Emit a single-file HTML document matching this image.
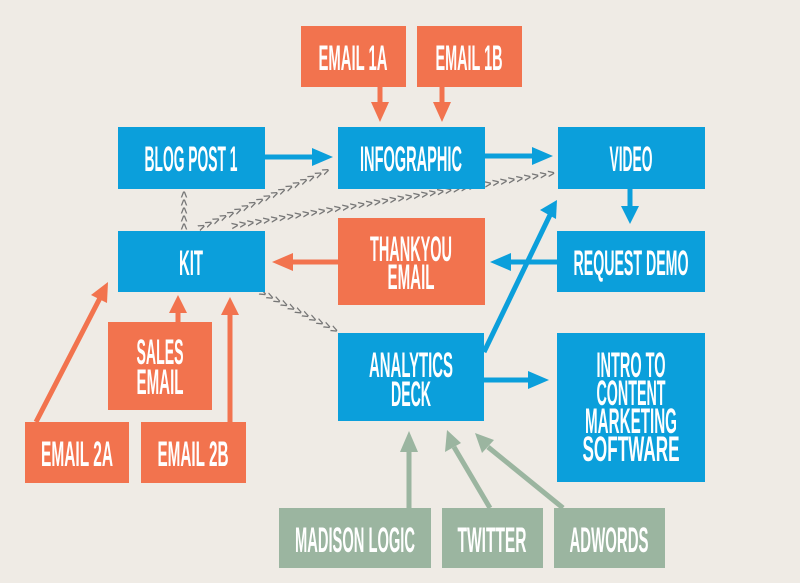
<!DOCTYPE html>
<html><head><meta charset="utf-8"><style>
html,body{margin:0;padding:0;background:#efebe5;}
svg{display:block}
text{font-family:"Liberation Sans Narrow","Liberation Sans",sans-serif;font-weight:bold;fill:#fff;font-size:35px;text-anchor:middle}
.c{font-family:"Liberation Sans",sans-serif;font-size:12px;fill:#777;font-weight:bold;text-anchor:start;letter-spacing:1px}
</style></head><body>
<svg width="800" height="583" viewBox="0 0 800 583" xmlns="http://www.w3.org/2000/svg">
<defs>
<path id="p1" d="M200 232 L338 170"/>
<path id="p2" d="M232 230 L560 176"/>
<path id="p3" d="M258 295 L338 336"/>
<path id="p4" d="M188 230 L188 192"/>
</defs>
<rect width="800" height="583" fill="#efebe5"/>

<text class="c"><textPath href="#p1">&gt;&gt;&gt;&gt;&gt;&gt;&gt;&gt;&gt;&gt;&gt;&gt;&gt;&gt;&gt;&gt;&gt;&gt;</textPath></text>
<text class="c"><textPath href="#p2">&gt;&gt;&gt;&gt;&gt;&gt;&gt;&gt;&gt;&gt;&gt;&gt;&gt;&gt;&gt;&gt;&gt;&gt;&gt;&gt;&gt;&gt;&gt;&gt;&gt;&gt;&gt;&gt;&gt;&gt;&gt;&gt;&gt;&gt;&gt;&gt;&gt;&gt;&gt;&gt;&gt;&gt;</textPath></text>
<text class="c"><textPath href="#p3">&gt;&gt;&gt;&gt;&gt;&gt;&gt;&gt;&gt;&gt;&gt;</textPath></text>
<text class="c"><textPath href="#p4">&gt;&gt;&gt;&gt;&gt;</textPath></text>

<g stroke="#0b9fdb" stroke-width="5" fill="#0b9fdb">
<line x1="265" y1="157" x2="315" y2="157"/><polygon stroke="none" points="312,148 333,157 312,166"/>
<line x1="485" y1="156" x2="535" y2="156"/><polygon stroke="none" points="532,147 553,156 532,165"/>
<line x1="630" y1="189" x2="630" y2="210"/><polygon stroke="none" points="621,206 639,206 630,224"/>
<line x1="558" y1="262" x2="508" y2="262"/><polygon stroke="none" points="511,253 490,262 511,271"/>
<line x1="484" y1="352" x2="550" y2="215"/><polygon stroke="none" points="540,210 557,200 556,219"/>
<line x1="484" y1="380" x2="530" y2="380"/><polygon stroke="none" points="528,371 549,380 528,389"/>
</g>
<g stroke="#f2734e" stroke-width="5" fill="#f2734e">
<line x1="380" y1="87" x2="380" y2="105"/><polygon stroke="none" points="371,102 389,102 380,122"/>
<line x1="442" y1="87" x2="442" y2="105"/><polygon stroke="none" points="433,102 451,102 442,122"/>
<line x1="338" y1="262" x2="290" y2="262"/><polygon stroke="none" points="293,253 272,262 293,271"/>
<line x1="36" y1="422" x2="100" y2="298"/><polygon stroke="none" points="91,295 108,282 107,303"/>
<line x1="178" y1="322" x2="178" y2="310"/><polygon stroke="none" points="169,313 187,313 178,295"/>
<line x1="230" y1="422" x2="230" y2="312"/><polygon stroke="none" points="221,315 239,315 230,297"/>
</g>
<g stroke="#9bb5a0" stroke-width="5" fill="#9bb5a0">
<line x1="409" y1="508" x2="409" y2="448"/><polygon stroke="none" points="400,452 418,452 409,431"/>
<line x1="490" y1="508" x2="454" y2="447"/><polygon stroke="none" points="445,452 461,443 447,430"/>
<line x1="563" y1="508" x2="488" y2="447"/><polygon stroke="none" points="482,453 494,440 475,433"/>
</g>

<g fill="#0b9fdb">
<rect x="118" y="127" width="147" height="62"/>
<rect x="338" y="127" width="147" height="62"/>
<rect x="558" y="127" width="147" height="62"/>
<rect x="118" y="231" width="147" height="61"/>
<rect x="557" y="231" width="148" height="61"/>
<rect x="338" y="333" width="146" height="88"/>
<rect x="557" y="333" width="148" height="149"/>
</g>
<g fill="#f2734e">
<rect x="301" y="26" width="105" height="61"/>
<rect x="417" y="26" width="105" height="61"/>
<rect x="338" y="218" width="147" height="87"/>
<rect x="108" y="322" width="104" height="88"/>
<rect x="25" y="422" width="104" height="61"/>
<rect x="141" y="422" width="105" height="61"/>
</g>
<g fill="#9bb5a0">
<rect x="279" y="508" width="152" height="60"/>
<rect x="442" y="508" width="101" height="60"/>
<rect x="554" y="508" width="111" height="60"/>
</g>

<text x="353" y="70" textLength="69" lengthAdjust="spacingAndGlyphs">EMAIL 1A</text>
<text x="469" y="70" textLength="67" lengthAdjust="spacingAndGlyphs">EMAIL 1B</text>
<text x="191" y="171" textLength="93" lengthAdjust="spacingAndGlyphs">BLOG POST 1</text>
<text x="411" y="171" textLength="102" lengthAdjust="spacingAndGlyphs">INFOGRAPHIC</text>
<text x="631" y="171" textLength="43" lengthAdjust="spacingAndGlyphs">VIDEO</text>
<text x="191" y="275" textLength="24" lengthAdjust="spacingAndGlyphs">KIT</text>
<text x="631" y="275" textLength="115" lengthAdjust="spacingAndGlyphs">REQUEST DEMO</text>
<text x="411" y="261" textLength="82" lengthAdjust="spacingAndGlyphs">THANKYOU</text>
<text x="411" y="289" textLength="47" lengthAdjust="spacingAndGlyphs">EMAIL</text>
<text x="411" y="377" textLength="84" lengthAdjust="spacingAndGlyphs">ANALYTICS</text>
<text x="411" y="406" textLength="40" lengthAdjust="spacingAndGlyphs">DECK</text>
<text x="160" y="364" textLength="47" lengthAdjust="spacingAndGlyphs">SALES</text>
<text x="160" y="394" textLength="47" lengthAdjust="spacingAndGlyphs">EMAIL</text>
<text x="77" y="466" textLength="72" lengthAdjust="spacingAndGlyphs">EMAIL 2A</text>
<text x="193" y="466" textLength="71" lengthAdjust="spacingAndGlyphs">EMAIL 2B</text>
<text x="631" y="377" textLength="69" lengthAdjust="spacingAndGlyphs">INTRO TO</text>
<text x="631" y="405" textLength="69" lengthAdjust="spacingAndGlyphs">CONTENT</text>
<text x="631" y="433" textLength="92" lengthAdjust="spacingAndGlyphs">MARKETING</text>
<text x="631" y="461" textLength="97" lengthAdjust="spacingAndGlyphs">SOFTWARE</text>
<text x="355" y="552" textLength="120" lengthAdjust="spacingAndGlyphs">MADISON LOGIC</text>
<text x="492" y="552" textLength="69" lengthAdjust="spacingAndGlyphs">TWITTER</text>
<text x="609" y="552" textLength="79" lengthAdjust="spacingAndGlyphs">ADWORDS</text>
</svg>
</body></html>
